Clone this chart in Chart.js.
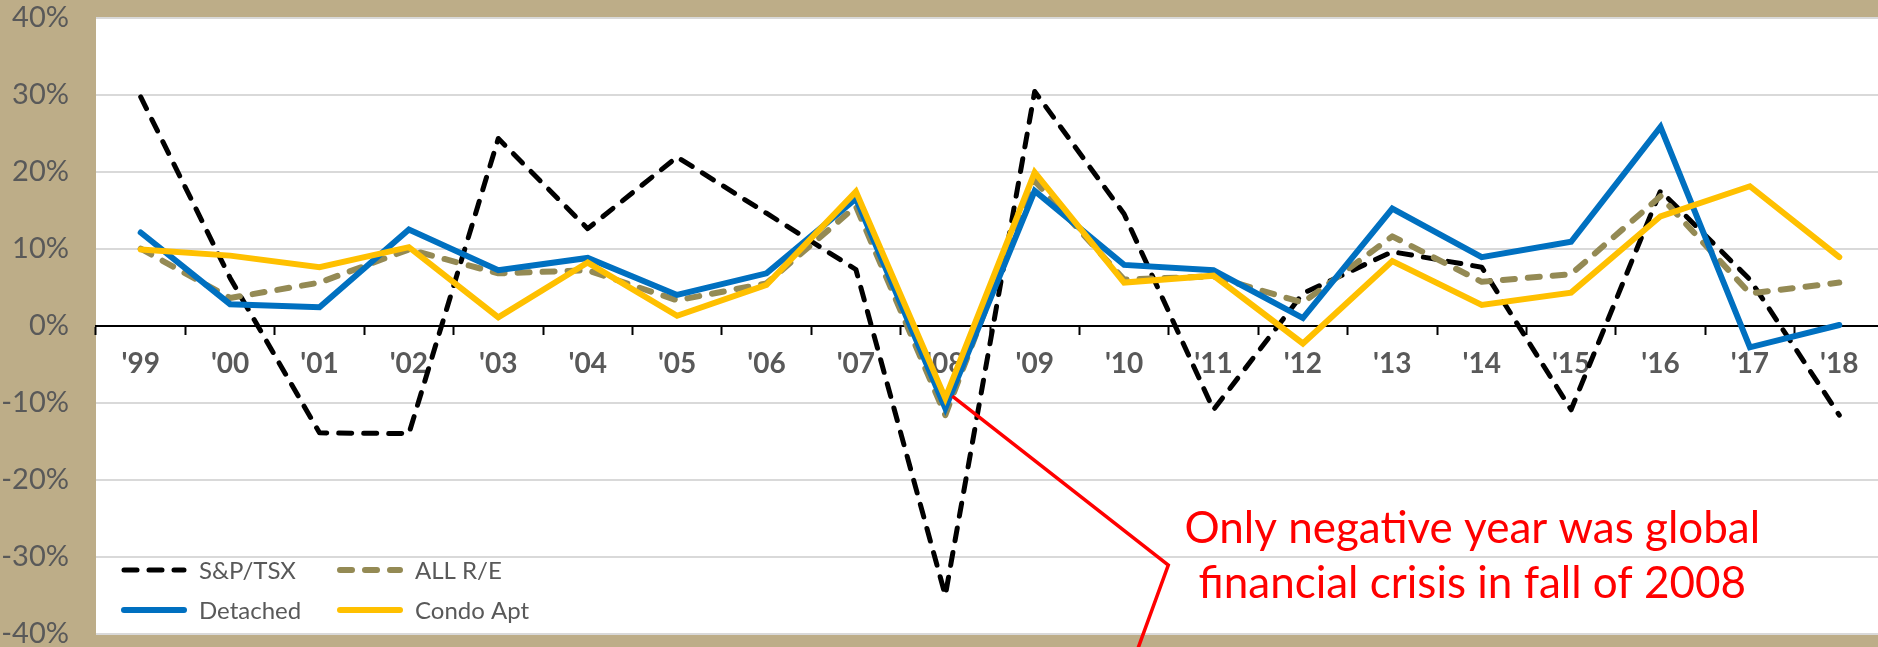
<!DOCTYPE html>
<html>
<head>
<meta charset="utf-8">
<title>Annual returns: S&amp;P/TSX vs. real estate</title>
<script src="https://cdn.jsdelivr.net/npm/chart.js@4.4.1/dist/chart.umd.min.js"></script>
<style>
  html, body { margin: 0; padding: 0; overflow: hidden; background: #BDAD88; }
  #wrap { width: 1884px; height: 647px; }
</style>
</head>
<body>
<div id="wrap"><canvas id="chart" width="1884" height="647"></canvas></div>
<script>
// Year labels along the category axis
const years = ["'99", "'00", "'01", "'02", "'03", "'04", "'05", "'06", "'07", "'08",
               "'09", "'10", "'11", "'12", "'13", "'14", "'15", "'16", "'17", "'18"];

// Annual returns, percent
const spTsx    = [29.7, 6.2, -13.9, -14.0, 24.3, 12.6, 21.9, 14.6, 7.3, -35.0,
                  30.4, 14.5, -10.9, 4.2, 9.6, 7.6, -10.9, 17.5, 6.0, -11.6];
const allRe    = [10.0, 3.6, 5.6, 9.9, 6.8, 7.2, 3.3, 5.5, 15.5, -11.6,
                  18.8, 6.0, 6.4, 3.0, 11.6, 5.7, 6.7, 16.8, 4.2, 5.6];
const detached = [12.1, 2.8, 2.4, 12.5, 7.2, 8.8, 4.0, 6.8, 16.5, -10.7,
                  17.5, 7.9, 7.2, 1.0, 15.2, 8.9, 10.9, 25.8, -2.8, 0.1];
const condoApt = [9.9, 9.1, 7.6, 10.2, 1.1, 8.2, 1.3, 5.3, 17.4, -9.4,
                  19.9, 5.6, 6.5, -2.3, 8.4, 2.7, 4.3, 14.2, 18.1, 8.9];

// Value axis range and step (percent)
const yMin = -40, yMax = 40, yStep = 10;

// Series names
const seriesNames = ['S&P/TSX', 'ALL R/E', 'Detached', 'Condo Apt'];

// Callout text
const calloutLines = ['Only negative year was global', 'financial crisis in fall of 2008'];
const calloutYear = "'08";

const GREY_TEXT = '#595959';

// White plotting surface on the tan page
const plotBackground = {
  id: 'plotBackground',
  beforeDraw(chart) {
    const { ctx, chartArea: a } = chart;
    ctx.save();
    ctx.fillStyle = '#FFFFFF';
    ctx.fillRect(a.left, a.top, a.right - a.left, a.bottom - a.top);
    ctx.restore();
  }
};

// Two-column key in the lower-left corner of the plot
const seriesKey = {
  id: 'seriesKey',
  afterDatasetsDraw(chart) {
    const { ctx, chartArea: a } = chart;
    const cols = [a.left + 25, a.left + 241];
    const rows = [a.bottom - 64, a.bottom - 24];
    ctx.save();
    ctx.font = '24px Lato';
    ctx.textBaseline = 'middle';
    chart.data.datasets.forEach((ds, i) => {
      const x = cols[i % 2];
      const y = rows[Math.floor(i / 2)];
      ctx.beginPath();
      ctx.lineWidth = ds.borderWidth;
      ctx.strokeStyle = ds.borderColor;
      ctx.setLineDash(ds.borderDash || []);
      ctx.lineCap = 'round';
      ctx.moveTo(x + 3, y);
      ctx.lineTo(x + 63, y);
      ctx.stroke();
      ctx.setLineDash([]);
      ctx.fillStyle = GREY_TEXT;
      ctx.fillText(ds.label, x + 78, y + 1);
    });
    ctx.restore();
  }
};

// Red callout pointing at the 2008 trough
const crisisCallout = {
  id: 'crisisCallout',
  afterDatasetsDraw(chart) {
    const { ctx, chartArea: a, scales } = chart;
    const idx = years.indexOf(calloutYear);
    const px = scales.x.getPixelForValue(idx);
    const py = scales.y.getPixelForValue(detached[idx]);
    const kinkX = px + 223, kinkY = a.bottom - 69;
    ctx.save();
    ctx.strokeStyle = '#FF0000';
    ctx.lineWidth = 3.5;
    ctx.lineJoin = 'miter';
    ctx.beginPath();
    ctx.moveTo(px + 7, py - 12);
    ctx.lineTo(kinkX, kinkY);
    ctx.lineTo(kinkX - 40, kinkY + 110);
    ctx.stroke();

    ctx.fillStyle = '#FF0000';
    ctx.font = '44px Lato';
    ctx.textAlign = 'center';
    ctx.textBaseline = 'alphabetic';
    const cx = px + 527;
    ctx.fillText(calloutLines[0], cx, a.bottom - 91);
    ctx.fillText(calloutLines[1], cx, a.bottom - 36);
    ctx.restore();
  }
};

const ctx = document.getElementById('chart').getContext('2d');
new Chart(ctx, {
  type: 'line',
  data: {
    labels: years,
    datasets: [
      {
        label: seriesNames[0], data: spTsx, order: 4,
        borderColor: '#000000', borderWidth: 5,
        borderDash: [13, 12], borderCapStyle: 'round', borderJoinStyle: 'round'
      },
      {
        label: seriesNames[1], data: allRe, order: 3,
        borderColor: '#948A54', borderWidth: 6,
        borderDash: [12, 13], borderCapStyle: 'round', borderJoinStyle: 'round'
      },
      {
        label: seriesNames[2], data: detached, order: 2,
        borderColor: '#0070C0', borderWidth: 6,
        borderCapStyle: 'round', borderJoinStyle: 'miter'
      },
      {
        label: seriesNames[3], data: condoApt, order: 1,
        borderColor: '#FFC000', borderWidth: 6,
        borderCapStyle: 'round', borderJoinStyle: 'miter'
      }
    ]
  },
  options: {
    responsive: false,
    animation: false,
    devicePixelRatio: 1,
    layout: { padding: { top: 17.5, bottom: 13, left: 0, right: 0 } },
    elements: {
      point: { radius: 0, hoverRadius: 0 },
      line: { tension: 0, fill: false }
    },
    plugins: {
      legend: { display: false },
      tooltip: { enabled: false }
    },
    scales: {
      x: {
        type: 'category',
        position: { y: 0 },
        offset: true,
        grid: {
          offset: true,
          drawOnChartArea: false,
          drawTicks: true,
          tickLength: 8,
          tickWidth: 2,
          tickColor: '#000000'
        },
        border: { display: true, color: '#000000', width: 2 },
        ticks: {
          color: GREY_TEXT,
          padding: 13,
          maxRotation: 0,
          autoSkip: false,
          font: { family: 'Lato', size: 28, weight: 'bold' }
        }
      },
      y: {
        position: 'left',
        min: yMin,
        max: yMax,
        afterFit(scale) {
          scale.width = 96;
          scale.paddingTop = 0;
          scale.paddingBottom = 0;
        },
        grid: { color: '#D9D9D9', lineWidth: 2, drawTicks: false },
        border: { display: false },
        ticks: {
          stepSize: yStep,
          padding: 27,
          color: GREY_TEXT,
          font: { family: 'Lato', size: 29 },
          callback: (v) => v + '%'
        }
      }
    }
  },
  plugins: [plotBackground, seriesKey, crisisCallout]
});
</script>
</body>
</html>
